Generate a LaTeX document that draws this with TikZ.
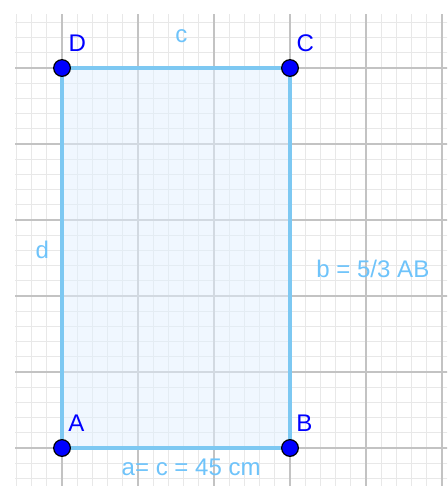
\documentclass[tikz,border=0pt]{standalone}
\usepackage{fontspec}
\setmainfont{Liberation Sans}
\usepackage{tikz}

\definecolor{rectline}{RGB}{125,200,242}
\definecolor{rectfill}{RGB}{225,240,255}
\definecolor{seglabel}{RGB}{110,195,250}
\definecolor{ptblue}{RGB}{0,0,255}
\definecolor{majorgrid}{RGB}{195,195,195}
\definecolor{minorgrid}{RGB}{232,232,232}

\begin{document}
\begin{tikzpicture}[x=2cm, y=2cm,
	every node/.style={font=\fontsize{18}{20}\selectfont},
	pt/.style={circle, fill=ptblue, draw=black, line width=0.9pt, minimum size=12.5pt, inner sep=0pt},
	ptlabel/.style={text=ptblue},
	seg/.style={text=seglabel}]
	\useasboundingbox (-0.816,-0.5) rectangle (5.066,5.895);

	% grid
	\begin{scope}
		\clip (-0.618,-0.5) rectangle (5.066,5.71);
		\draw[minorgrid, line width=0.6pt, step=0.2] (-1,-1) grid (6,6);
		\draw[majorgrid, line width=0.9pt, step=1] (-1,-1) grid (6,6);
	\end{scope}

	% rectangle ABCD
	\coordinate (A) at (0,0);
	\coordinate (B) at (3,0);
	\coordinate (C) at (3,5);
	\coordinate (D) at (0,5);
	\fill[rectfill, fill opacity=0.5] (A) -- (B) -- (C) -- (D) -- cycle;
	\draw[rectline, line width=2.6pt] (A) -- (B) -- (C) -- (D) -- cycle;

	\node[pt] (ptA) at (A) {};
	\node[pt] (ptB) at (B) {};
	\node[pt] (ptC) at (C) {};
	\node[pt] (ptD) at (D) {};

	\node[ptlabel] (labA) at (0.19,0.32) {A};
	\node[ptlabel] (labB) at (3.19,0.32) {B};
	\node[ptlabel] (labC) at (3.2,5.32) {C};
	\node[ptlabel] (labD) at (0.2,5.32) {D};

	\node[seg] (segc) at (1.57,5.42) {c};
	\node[seg] (segd) at (-0.26,2.61) {d};
	\node[seg] (segb) at (4.09,2.36) {b = 5/3 AB};
	\node[seg] (sega) at (1.7,-0.26) {a= c = 45 cm};
\end{tikzpicture}
\end{document}
